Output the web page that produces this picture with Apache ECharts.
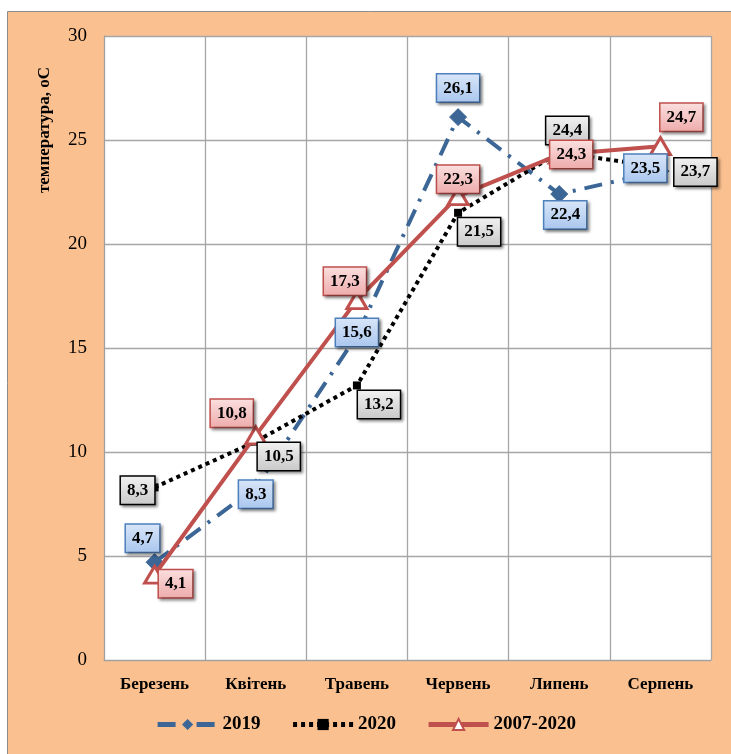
<!DOCTYPE html>
<html><head><meta charset="utf-8">
<script src="https://cdn.jsdelivr.net/npm/echarts@6/dist/echarts.min.js"></script>
<style>html,body{margin:0;padding:0;background:#fff}#c{width:731px;height:754px}</style>
</head><body><div id="c"></div>
<script>
var categories = ['Березень','Квітень','Травень','Червень','Липень','Серпень'];
var s2019 = [4.7, 8.3, 15.6, 26.1, 22.4, 23.5];
var s2020 = [8.3, 10.5, 13.2, 21.5, 24.4, 23.7];
var sAvg = [4.1, 10.8, 17.3, 22.3, 24.3, 24.7];
var seriesNames = ['2019','2020','2007-2020'];
var yTicks = {min:0, max:30, interval:5};

// label placement offsets (style)
var off2019 = [[-12,-24],[0,7],[0,-3],[0,-29],[6,21],[-15,-3]];
var off2020 = [[-17,3],[23,15],[22,19],[21,19],[8,-22],[35,5]];
var offAvg = [[21,9],[-24,-22],[-12,-19],[0,-17],[12,0],[21,-29]];

var FONT = '"Liberation Serif","Times New Roman",serif';
function grad(a,b){return {type:'linear',x:0,y:0,x2:0,y2:1,colorStops:[{offset:0,color:a},{offset:1,color:b}]};}
function lbl(bg,border){
  return {show:true,position:'inside',fontFamily:FONT,fontWeight:'bold',fontSize:17,color:'#000',
    backgroundColor:bg,borderColor:border,borderWidth:1.5,padding:[6,6,4,6],
    shadowColor:'rgba(0,0,0,0.4)',shadowBlur:3,shadowOffsetX:2,shadowOffsetY:2,
    formatter:function(p){return String(p.value).replace('.',',');}};
}
function build(vals,offs){
  return vals.map(function(v,i){return {value:v,label:{offset:offs[i]}};});
}
function labelLayer(name,vals,offs,bg,border,z){
  return {name:name+'_lbl',type:'line',data:build(vals,offs),z:z,silent:true,
    lineStyle:{opacity:0,width:0},symbol:'circle',symbolSize:1,
    itemStyle:{color:'rgba(0,0,0,0)'},label:lbl(bg,border),tooltip:{show:false}};
}
var chart = echarts.init(document.getElementById('c'),null,{renderer:'canvas'});
chart.setOption({
  animation:false,
  backgroundColor:'#fff',
  graphic:[
    {type:'rect',z:-10,shape:{x:7.5,y:11.5,width:730,height:750},style:{fill:'#FAC090',stroke:'#8c8c8c',lineWidth:1}},
    {type:'text',z:10,x:45,y:130,rotation:Math.PI/2,style:{text:'температура, оС',font:'bold 17px '+FONT,fill:'#000',textAlign:'center',textVerticalAlign:'middle'}}
  ],
  grid:{left:104,top:36,right:20,bottom:94,show:true,backgroundColor:'#fff',borderWidth:0},
  legend:{bottom:15,left:'center',itemWidth:60,itemHeight:14,itemGap:30,
    lineStyle:{width:5},
    textStyle:{fontFamily:FONT,fontWeight:'bold',fontSize:19,color:'#000'},
    data:seriesNames},
  xAxis:{type:'category',data:categories,boundaryGap:true,
    axisLine:{show:true,lineStyle:{color:'#a0a0a0'}},axisTick:{show:false},
    splitLine:{show:true,lineStyle:{color:'#a6a6a6',width:1.3}},
    axisLabel:{fontFamily:FONT,fontWeight:'bold',fontSize:17,color:'#000',margin:16}},
  yAxis:{type:'value',min:yTicks.min,max:yTicks.max,interval:yTicks.interval,
    axisLine:{show:true,lineStyle:{color:'#a0a0a0'}},axisTick:{show:false},
    splitLine:{show:true,lineStyle:{color:'#a6a6a6',width:1.3}},
    axisLabel:{fontFamily:FONT,fontSize:19,color:'#000',margin:17}},
  series:[
    {name:seriesNames[0],type:'line',data:s2019,z:2,
      lineStyle:{color:'#3B6695',width:4,type:[18,9,3,9]},
      symbol:'diamond',symbolSize:17,itemStyle:{color:'#3B6695',borderColor:'#3B6695'}},
    {name:seriesNames[1],type:'line',data:s2020,z:3,
      lineStyle:{color:'#000',width:4,type:[4,4]},
      symbol:'rect',symbolSize:8,itemStyle:{color:'#000'}},
    {name:seriesNames[2],type:'line',data:sAvg,z:4,
      lineStyle:{color:'#C0504D',width:4},
      symbol:'triangle',symbolSize:[20,17],itemStyle:{color:'#fff',borderColor:'#C0504D',borderWidth:3}},
    labelLayer(seriesNames[0],s2019,off2019,grad('#D9E6F8','#A9C6EE'),'#4F81BD',10),
    labelLayer(seriesNames[1],s2020,off2020,grad('#F2F2F2','#C8C8C8'),'#000',11),
    labelLayer(seriesNames[2],sAvg,offAvg,grad('#FBE0E0','#EEAAAA'),'#C0504D',12)
  ]
});
</script></body></html>
